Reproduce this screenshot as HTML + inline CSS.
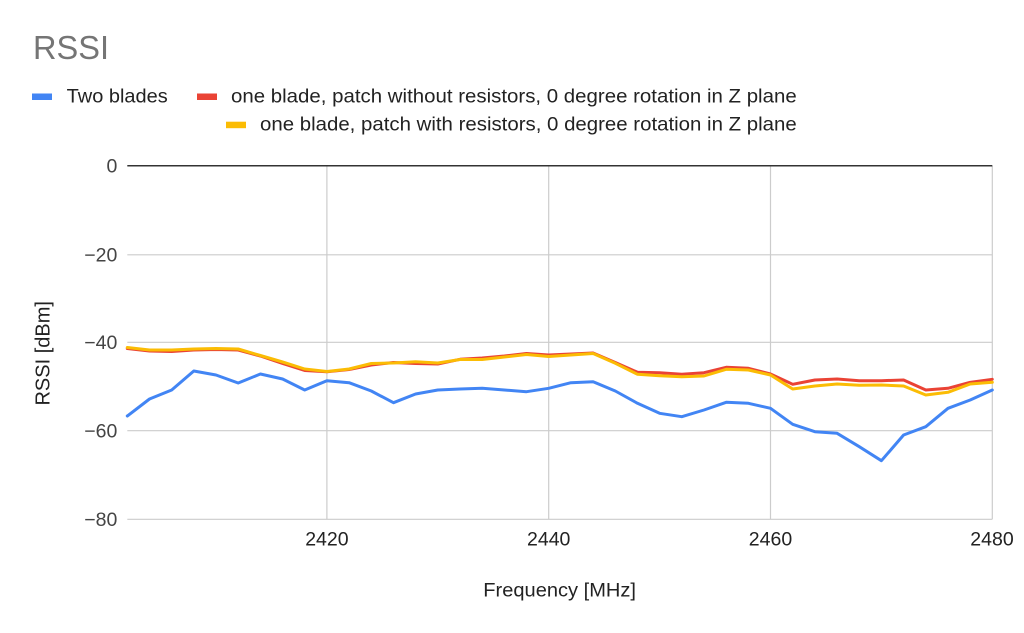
<!DOCTYPE html>
<html>
<head>
<meta charset="utf-8">
<style>
  html, body { margin: 0; padding: 0; background: #ffffff; }
  svg { display: block; }
  text { font-family: "Liberation Sans", Arial, sans-serif; }
</style>
</head>
<body>
<svg width="1024" height="633" viewBox="0 0 1024 633" xmlns="http://www.w3.org/2000/svg">
  <rect x="0" y="0" width="1024" height="633" fill="#ffffff"/>

  <!-- Title -->
  <text x="33" y="59" font-size="33" fill="#757575" textLength="76" lengthAdjust="spacingAndGlyphs">RSSI</text>

  <!-- Legend -->
  <rect x="32" y="93.5" width="20" height="6.5" fill="#4285F4"/>
  <text x="66.7" y="102.5" font-size="19.5" fill="#222222" textLength="101" lengthAdjust="spacingAndGlyphs">Two blades</text>
  <rect x="197" y="93.5" width="20" height="6.5" fill="#EA4335"/>
  <text x="231" y="102.5" font-size="19.5" fill="#222222" textLength="565.7" lengthAdjust="spacingAndGlyphs">one blade, patch without resistors, 0 degree rotation in Z plane</text>
  <rect x="226" y="121.7" width="20" height="6.5" fill="#FBBC04"/>
  <text x="260" y="130.5" font-size="19.5" fill="#222222" textLength="536.7" lengthAdjust="spacingAndGlyphs">one blade, patch with resistors, 0 degree rotation in Z plane</text>

  <!-- Gridlines -->
  <g stroke="#cccccc" stroke-width="1.2" fill="none">
    <line x1="127.3" y1="254.8" x2="992.3" y2="254.8"/>
    <line x1="127.3" y1="342.3" x2="992.3" y2="342.3"/>
    <line x1="127.3" y1="430.7" x2="992.3" y2="430.7"/>
    <line x1="127.3" y1="519.3" x2="992.3" y2="519.3"/>
    <line x1="326.9" y1="165.7" x2="326.9" y2="519.3"/>
    <line x1="548.7" y1="165.7" x2="548.7" y2="519.3"/>
    <line x1="770.5" y1="165.7" x2="770.5" y2="519.3"/>
    <line x1="992.3" y1="165.7" x2="992.3" y2="519.3"/>
  </g>
  <!-- Zero line -->
  <line x1="127.3" y1="165.7" x2="992.3" y2="165.7" stroke="#333333" stroke-width="1.5"/>

  <!-- Y tick labels -->
  <g font-size="19.5" fill="#444444" text-anchor="end">
    <text x="117.3" y="172.5">0</text>
    <text x="117.3" y="261.5">−20</text>
    <text x="117.3" y="349">−40</text>
    <text x="117.3" y="437.5">−60</text>
    <text x="117.3" y="526">−80</text>
  </g>

  <!-- X tick labels -->
  <g font-size="19.5" fill="#222222" text-anchor="middle">
    <text x="326.9" y="545.7">2420</text>
    <text x="548.7" y="545.7">2440</text>
    <text x="770.5" y="545.7">2460</text>
    <text x="992" y="545.7">2480</text>
  </g>

  <!-- Axis titles -->
  <text x="483.3" y="596.7" font-size="19.5" fill="#222222" textLength="152.7" lengthAdjust="spacingAndGlyphs">Frequency [MHz]</text>
  <text transform="translate(49.5,353.3) rotate(-90)" text-anchor="middle" font-size="20" fill="#222222">RSSI [dBm]</text>

  <!-- Series -->
  <g fill="none" stroke-width="3" stroke-linejoin="round" stroke-linecap="round">
    <polyline stroke="#4285F4" points="127.3,416 149.5,399 171.7,390 193.8,371 216,375 238.2,383 260.4,374 282.6,379 304.7,390 326.9,380.7 349.1,382.7 371.3,391 393.5,402.7 415.6,394 437.8,390 460,389 482.2,388.3 504.4,390 526.5,391.7 548.7,388.3 570.9,382.7 593.1,381.7 615.3,391 637.5,403.3 659.6,413.3 681.8,416.7 704,410 726.2,402.3 748.4,403.3 770.5,408.3 792.7,424.3 814.9,431.7 837.1,433.3 859.3,446.7 881.4,460.7 903.6,435 925.8,426.7 948,408.3 970.2,400 992.3,390"/>
    <polyline stroke="#EA4335" points="127.3,348.5 149.5,351 171.7,351.5 193.8,350 216,349.5 238.2,350 260.4,356 282.6,363.5 304.7,370.5 326.9,371.7 349.1,369.5 371.3,365 393.5,362.5 415.6,363.5 437.8,364 460,359.3 482.2,358 504.4,356 526.5,353.5 548.7,355 570.9,354 593.1,353 615.3,362.5 637.5,372.3 659.6,372.7 681.8,374.3 704,372.7 726.2,367.3 748.4,368.3 770.5,374 792.7,384.3 814.9,380 837.1,379 859.3,380.7 881.4,380.7 903.6,380 925.8,390 948,388.3 970.2,382.3 992.3,379.3"/>
    <polyline stroke="#FBBC04" points="127.3,347.5 149.5,350 171.7,350 193.8,349 216,348.5 238.2,349 260.4,355.5 282.6,362 304.7,369 326.9,371.5 349.1,369 371.3,363.5 393.5,363 415.6,361.7 437.8,363 460,359.5 482.2,359.5 504.4,357 526.5,354.5 548.7,356.5 570.9,355 593.1,353.5 615.3,363.3 637.5,374.3 659.6,375.7 681.8,376.7 704,376 726.2,369.3 748.4,370 770.5,375 792.7,389 814.9,386 837.1,384 859.3,385.3 881.4,385 903.6,386 925.8,395 948,392.3 970.2,384 992.3,382.3"/>
  </g>
</svg>
</body>
</html>
